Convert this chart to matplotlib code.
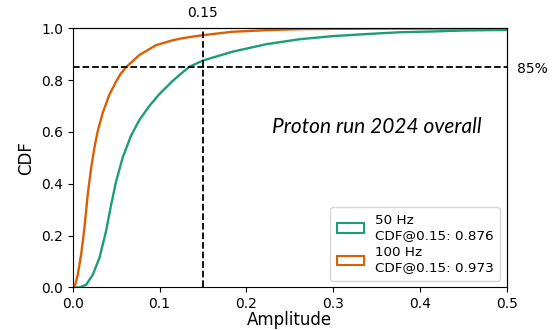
import matplotlib
matplotlib.use("Agg")
import matplotlib.pyplot as plt
from matplotlib.patches import Patch

amp_50 = [0, 0.0077, 0.0153, 0.023, 0.0307, 0.0383, 0.0441, 0.0498, 0.0575, 0.067,
          0.0766, 0.0881, 0.0996, 0.115, 0.126, 0.1345, 0.15, 0.184, 0.223, 0.261,
          0.299, 0.338, 0.376, 0.414, 0.4525, 0.5]
cdf_50 = [0, 0.0, 0.010, 0.049, 0.114, 0.217, 0.318, 0.408, 0.502, 0.585,
          0.646, 0.700, 0.746, 0.797, 0.829, 0.852, 0.876, 0.91, 0.939, 0.958,
          0.970, 0.978, 0.985, 0.988, 0.992, 0.994]

amp_100 = [0, 0.002, 0.0057, 0.0096, 0.0134, 0.0172, 0.0211, 0.0249, 0.0287, 0.0345,
           0.0421, 0.0498, 0.055, 0.0613, 0.0766, 0.0958, 0.115, 0.126, 0.148, 0.184,
           0.223, 0.261, 0.30, 0.35, 0.4, 0.5]
cdf_100 = [0, 0.0, 0.049, 0.127, 0.230, 0.358, 0.461, 0.539, 0.603, 0.674,
           0.744, 0.794, 0.824, 0.850, 0.897, 0.935, 0.954, 0.962, 0.973, 0.987,
           0.993, 0.997, 0.998, 0.999, 0.999, 1.0]

labels = ["50 Hz\nCDF@0.15: 0.876", "100 Hz\nCDF@0.15: 0.973"]
colors = ["#1b9e77", "#d95f02"]
x_ref = 0.15
y_ref = 0.85
title_text = "Proton run 2024 overall"

fig = plt.figure(figsize=(5.6, 3.3), dpi=100)
ax = fig.add_axes([0.130, 0.129, 0.775, 0.785])

ax.plot(amp_50, cdf_50, color=colors[0], lw=1.7)
ax.plot(amp_100, cdf_100, color=colors[1], lw=1.7)

ax.axvline(x_ref, color="black", ls="--", lw=1.3)
ax.axhline(y_ref, color="black", ls="--", lw=1.3)

ax.set_xlim(0, 0.5)
ax.set_ylim(0, 1.0)
ax.set_xlabel("Amplitude", fontsize=12, labelpad=0)
ax.set_ylabel("CDF", fontsize=12)
ax.tick_params(labelsize=10)

sec_x = ax.secondary_xaxis("top")
sec_x.set_xticks([x_ref])
sec_x.set_xticklabels(["0.15"])
sec_x.tick_params(length=0, pad=6, labelsize=10)

sec_y = ax.secondary_yaxis("right")
sec_y.set_yticks([y_ref])
sec_y.set_yticklabels(["85%"])
sec_y.tick_params(length=0, pad=7, labelsize=10)

ax.text(0.46, 0.62, title_text, transform=ax.transAxes, fontsize=15,
        style="italic", family="Lato", ha="left", va="center")

handles = [Patch(facecolor="none", edgecolor=c, lw=1.5) for c in colors]
ax.legend(handles, labels, loc="lower right", fontsize=9.7,
          handlelength=2.0, handletextpad=0.8, borderpad=0.5, labelspacing=0.3)

fig.savefig("out.png", dpi=100)
